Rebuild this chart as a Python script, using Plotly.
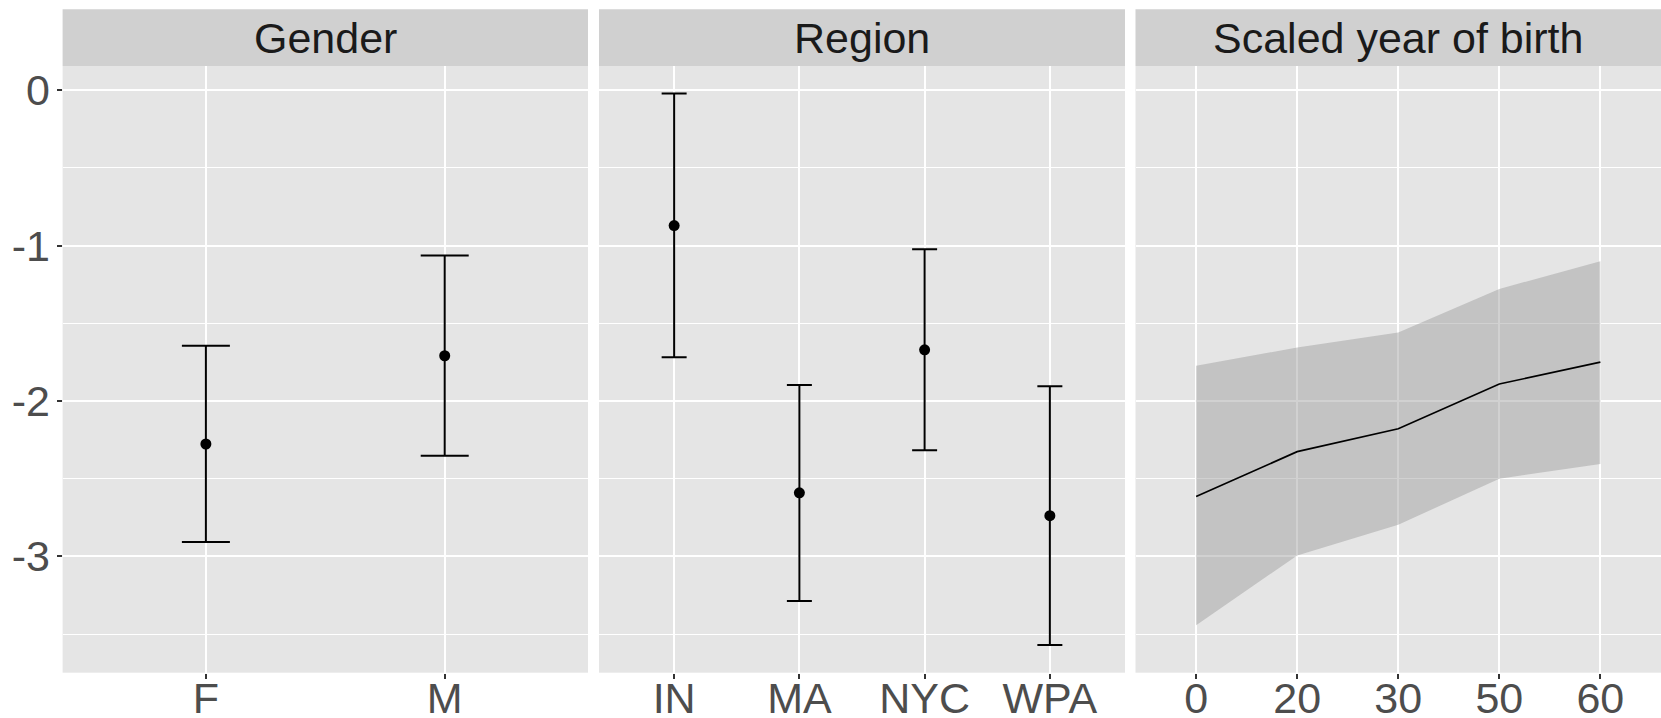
import plotly.graph_objects as go

# ---------------- data ----------------
gender_cats = ["F", "M"]
gender_est = [-2.277, -1.709]
gender_lo = [-2.908, -2.352]
gender_hi = [-1.644, -1.063]

region_cats = ["IN", "MA", "NYC", "WPA"]
region_est = [-0.871, -2.591, -1.671, -2.738]
region_lo = [-1.718, -3.288, -2.318, -3.571]
region_hi = [-0.021, -1.897, -1.024, -1.906]

year_cats = ["0", "20", "30", "50", "60"]
year_est = [-2.615, -2.326, -2.179, -1.891, -1.750]
year_lo = [-3.444, -2.994, -2.797, -2.500, -2.406]
year_hi = [-1.774, -1.656, -1.559, -1.279, -1.100]

strip_titles = ["Gender", "Region", "Scaled year of birth"]
y_ticks = [0, -1, -2, -3]
y_ticktext = ["0", "-1", "-2", "-3"]

# ---------------- layout geometry (pixels) ----------------
W, H = 1661, 718
panels_px = [(62.6, 588.0), (599.0, 1125.0), (1135.5, 1661.0)]
plot_top, plot_bot = 66.0, 672.7
strip_top = 9.3

def px_x(v):
    return v / W

def px_y(v):
    return 1 - v / H

FONT = "Liberation Sans, Arial, Helvetica, sans-serif"
PANEL_BG = "#E5E5E5"
STRIP_BG = "#D0D0D0"

fig = go.Figure()

# Gender
fig.add_trace(go.Scatter(
    x=gender_cats, y=gender_est, mode="markers",
    marker=dict(color="black", size=11),
    error_y=dict(type="data", symmetric=False,
                 array=[h - e for h, e in zip(gender_hi, gender_est)],
                 arrayminus=[e - l for e, l in zip(gender_est, gender_lo)],
                 color="black", thickness=2, width=24),
    xaxis="x", yaxis="y", showlegend=False))

# Region
fig.add_trace(go.Scatter(
    x=region_cats, y=region_est, mode="markers",
    marker=dict(color="black", size=11),
    error_y=dict(type="data", symmetric=False,
                 array=[h - e for h, e in zip(region_hi, region_est)],
                 arrayminus=[e - l for e, l in zip(region_est, region_lo)],
                 color="black", thickness=2, width=12.5),
    xaxis="x2", yaxis="y2", showlegend=False))

# Year ribbon
fig.add_trace(go.Scatter(
    x=year_cats, y=year_lo, mode="lines", line=dict(width=0),
    xaxis="x3", yaxis="y3", showlegend=False, hoverinfo="skip"))
fig.add_trace(go.Scatter(
    x=year_cats, y=year_hi, mode="lines", line=dict(width=0),
    fill="tonexty", fillcolor="rgba(153,153,153,0.45)",
    xaxis="x3", yaxis="y3", showlegend=False, hoverinfo="skip"))
fig.add_trace(go.Scatter(
    x=year_cats, y=year_est, mode="lines",
    line=dict(color="black", width=1.7),
    xaxis="x3", yaxis="y3", showlegend=False))

ydom = [px_y(plot_bot), px_y(plot_top)]
yrange = [-3.749, 0.156]

common_x = dict(
    type="category", showgrid=True, gridcolor="white", gridwidth=2,
    zeroline=False, showline=False, ticks="outside", ticklen=5, tickwidth=2,
    tickcolor="#333333", tickfont=dict(family=FONT, size=43, color="#4D4D4D"),
    ticklabelstandoff=-17,
    automargin=False, fixedrange=True,
)
common_y = dict(
    range=yrange, domain=ydom, showgrid=True, gridcolor="white", gridwidth=2,
    zeroline=False, showline=False, tickvals=y_ticks, ticktext=y_ticktext,
    minor=dict(tickvals=[-0.5, -1.5, -2.5, -3.5], showgrid=True,
               gridcolor="white", gridwidth=1, ticks=""),
    automargin=False, fixedrange=True,
)

layout = dict(
    width=W, height=H, margin=dict(l=0, r=0, t=0, b=0),
    paper_bgcolor="white", plot_bgcolor=PANEL_BG, showlegend=False,
    xaxis=dict(common_x, domain=[px_x(panels_px[0][0]), px_x(panels_px[0][1])],
               range=[-0.6, len(gender_cats) - 0.4], anchor="y"),
    xaxis2=dict(common_x, domain=[px_x(panels_px[1][0]), px_x(panels_px[1][1])],
                range=[-0.6, len(region_cats) - 0.4], anchor="y2"),
    xaxis3=dict(common_x, domain=[px_x(panels_px[2][0]), px_x(panels_px[2][1])],
                range=[-0.6, len(year_cats) - 0.4], anchor="y3"),
    yaxis=dict(common_y, anchor="x", ticks="outside", ticklen=5, tickwidth=2,
               tickcolor="#333333", ticklabelstandoff=-2,
               tickfont=dict(family=FONT, size=43, color="#4D4D4D")),
    yaxis2=dict(common_y, anchor="x2", showticklabels=False, ticks=""),
    yaxis3=dict(common_y, anchor="x3", showticklabels=False, ticks=""),
)
fig.update_layout(**layout)

shapes = []
annotations = []
for (x0, x1), title in zip(panels_px, strip_titles):
    shapes.append(dict(type="rect", xref="paper", yref="paper",
                       x0=px_x(x0), x1=px_x(x1), y0=px_y(plot_top), y1=px_y(strip_top),
                       fillcolor=STRIP_BG, line=dict(width=0), layer="below"))
    annotations.append(dict(xref="paper", yref="paper",
                            x=px_x((x0 + x1) / 2), y=px_y((strip_top + plot_top) / 2),
                            text=title, showarrow=False, xanchor="center", yanchor="middle",
                            font=dict(family=FONT, size=43, color="#1A1A1A")))
fig.update_layout(shapes=shapes, annotations=annotations)

fig.write_html("out.html")
